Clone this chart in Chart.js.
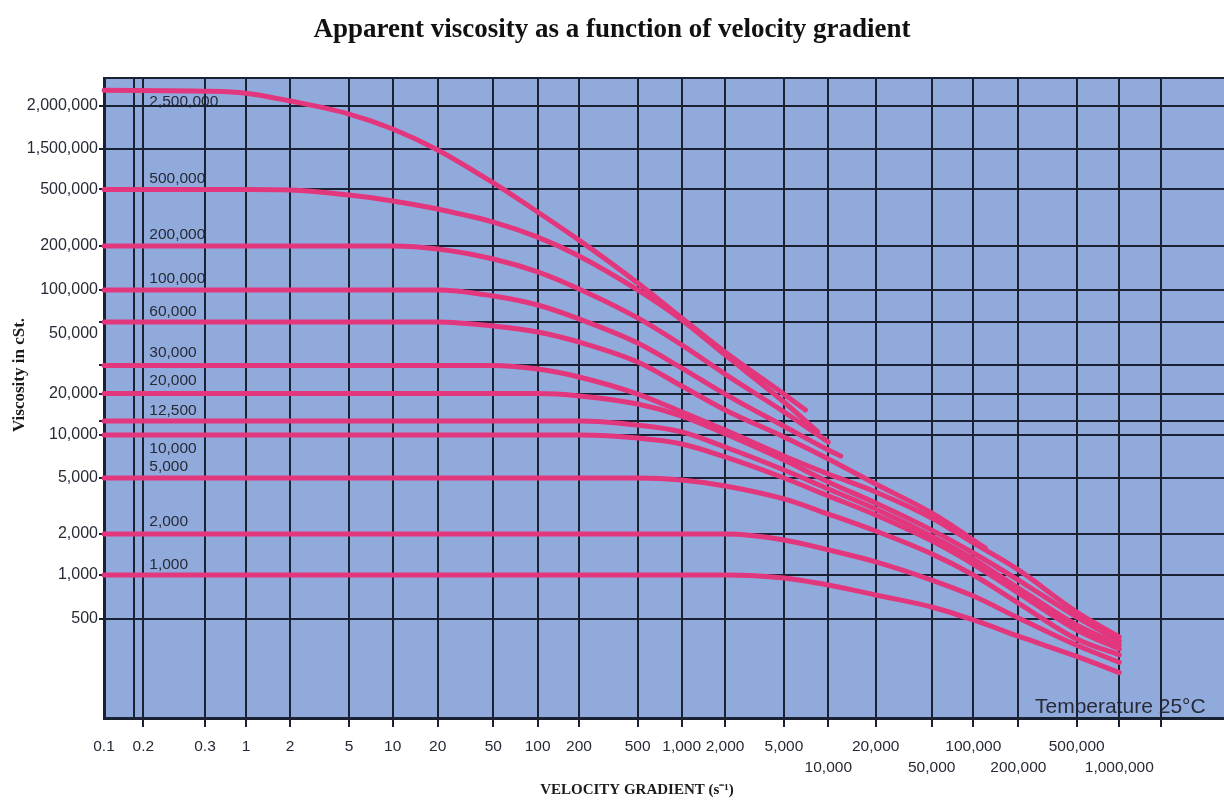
<!DOCTYPE html>
<html>
<head>
<meta charset="utf-8">
<title>Apparent viscosity as a function of velocity gradient</title>
<script src="https://cdn.jsdelivr.net/npm/chart.js@4.4.1/dist/chart.umd.min.js"></script>
<style>
  html, body { margin: 0; padding: 0; background: #ffffff; }
  #wrap { width: 1224px; height: 803px; position: relative; }
</style>
</head>
<body>
<div id="wrap"><canvas id="viscosityChart"></canvas></div>
<script>
// velocity gradient (s-1) where the curves were read
const gradient = [0.1, 0.3, 1, 2, 5, 10, 20, 50, 100, 200, 500, 1000, 2000, 5000, 7000, 8500, 10000, 12000, 20000, 50000, 100000, 120000, 200000, 500000, 1000000];

// apparent viscosity in cSt, null = curve not drawn there
const visc2500000 = [2500000, 2470000, 2400000, 2140000, 1890000, 1712000, 1460000, 597000, 347000, 220000, 111600, 64000, 37200, 19800, 15100, null, null, null, null, null, null, null, null, null, null];
const visc500000 = [500000, 500000, 500000, 496000, 457000, 415000, 364000, 295000, 231000, 171000, 100000, 62000, 35500, 17300, null, 10500, null, null, null, null, null, null, null, null, null];
const visc200000 = [200000, 200000, 200000, 200000, 200000, 200000, 191000, 163000, 133000, 101600, 64000, 41600, 26500, 14600, null, null, 8930, null, null, null, null, null, null, null, null];
const visc100000 = [100000, 100000, 100000, 100000, 100000, 100000, 100000, 90900, 78700, 63000, 42900, 28900, 19800, 11500, null, null, 7850, 7130, null, null, null, null, null, null, null];
const visc60000 = [60000, 60000, 60000, 60000, 60000, 60000, 60000, 56300, 51200, 43600, 31700, 22300, 15100, 9680, null, null, 6790, null, 4530, 2820, null, 1580, null, null, null];
const visc30000 = [30000, 30000, 30000, 30000, 30000, 30000, 30000, 30000, 28500, 25400, 19800, 14600, 10800, 7130, null, null, 5330, null, 3980, 2600, 1720, null, 1090, 558, 373];
const visc20000 = [20000, 20000, 20000, 20000, 20000, 20000, 20000, 20000, 20000, 19200, 16700, 13600, 10200, 6680, null, null, 4690, null, 3320, 2130, 1450, null, 924, 516, 350];
const visc12500 = [12500, 12500, 12500, 12500, 12500, 12500, 12500, 12500, 12500, 12500, 11700, 10500, 8240, 5690, null, null, 4180, null, 3010, 1930, 1310, null, 815, 454, 328];
const visc10000 = [10000, 10000, 10000, 10000, 10000, 10000, 10000, 10000, 10000, 10000, 9530, 8650, 7020, 5000, null, null, 3730, null, 2730, 1780, 1200, null, 753, 418, 307];
const visc5000 = [5000, 5000, 5000, 5000, 5000, 5000, 5000, 5000, 5000, 5000, 5000, 4840, 4390, 3550, null, null, 2770, null, 2100, 1430, 1000, null, 643, 361, 279];
const visc2000 = [2000, 2000, 2000, 2000, 2000, 2000, 2000, 2000, 2000, 2000, 2000, 2000, 2000, 1810, null, null, 1530, null, 1250, 924, 718, null, 508, 326, 247];
const visc1000 = [1000, 1000, 1000, 1000, 1000, 1000, 1000, 1000, 1000, 1000, 1000, 1000, 1000, 954, null, null, 854, null, 730, 604, 492, null, 378, 272, 209];

const curveNames = ['2,500,000', '500,000', '200,000', '100,000', '60,000', '30,000', '20,000', '12,500', '10,000', '5,000', '2,000', '1,000'];
const curves = [visc2500000, visc500000, visc200000, visc100000, visc60000, visc30000, visc20000, visc12500, visc10000, visc5000, visc2000, visc1000];

// axis ticks as printed
const gradientTicks = [0.1, 0.15, 0.2, 0.3, 1, 2, 5, 10, 20, 50, 100, 200, 500, 1000, 2000, 5000, 10000, 20000, 50000, 100000, 200000, 500000, 1000000, 2000000];
const gradientLabels = ['0.1', '', '0.2', '0.3', '1', '2', '5', '10', '20', '50', '100', '200', '500', '1,000', '2,000', '5,000', '10,000', '20,000', '50,000', '100,000', '200,000', '500,000', '1,000,000', ''];
const viscosityTicks = [500, 1000, 2000, 5000, 10000, 12500, 20000, 30000, 50000, 60000, 100000, 200000, 500000, 1500000, 2000000, 3000000];
const viscosityLabels = ['500', '1,000', '2,000', '5,000', '10,000', '', '20,000', '', '50,000', '', '100,000', '200,000', '500,000', '1,500,000', '2,000,000', ''];

// label placement (pixels above/below each curve) and which x labels sit on the second row
const labelShift = [11, -11, -11, -11, -10, -13, -13, -10, 14, -11, -12, -10];
const secondRow = ['10,000', '50,000', '200,000', '1,000,000'];

const gridColor = '#1a2133';
const inkColor = '#262a36';

// the printed grid is not evenly spaced, so each axis maps value -> fraction of its length
// between fixed stops, log-interpolated in between
class PrintedGridScale extends Chart.LinearScale {
  static id = 'printedGrid';
  static defaults = {};

  determineDataLimits() {
    const stops = this.options.stops;
    this.min = stops[0][0];
    this.max = stops[stops.length - 1][0];
  }

  buildTicks() {
    const o = this.options;
    return o.tickValues.map((v, i) => ({
      value: v,
      text: o.tickLabels[i],
      grid: !o.noGrid.includes(v),
      mark: !o.noMark.includes(v)
    }));
  }

  toDecimal(value) {
    const stops = this.options.stops;
    if (value <= stops[0][0]) return stops[0][1];
    for (let i = 1; i < stops.length; i++) {
      const [v1, f1] = stops[i];
      if (value <= v1) {
        const [v0, f0] = stops[i - 1];
        const t = Math.log(value / v0) / Math.log(v1 / v0);
        return f0 + t * (f1 - f0);
      }
    }
    return stops[stops.length - 1][1];
  }

  getPixelForValue(value) {
    if (value === null || value === undefined || isNaN(value)) return NaN;
    return this.getPixelForDecimal(this.toDecimal(value));
  }

  getValueForPixel(pixel) {
    const d = this.getDecimalForPixel(pixel);
    const stops = this.options.stops;
    for (let i = 1; i < stops.length; i++) {
      const [v1, f1] = stops[i];
      if (d <= f1) {
        const [v0, f0] = stops[i - 1];
        return v0 * Math.pow(v1 / v0, (d - f0) / (f1 - f0));
      }
    }
    return this.max;
  }
}
Chart.register(PrintedGridScale);

const paperPlugin = {
  id: 'paper',
  beforeDraw(chart) {
    const { ctx, chartArea: a, scales } = chart;
    ctx.save();
    ctx.fillStyle = '#91aadc';
    ctx.fillRect(a.left, a.top, a.right - a.left, a.bottom - a.top);

    ctx.fillStyle = inkColor;
    ctx.textBaseline = 'middle';
    ctx.textAlign = 'left';
    ctx.font = '21px "Liberation Sans"';
    ctx.fillText('Temperature 25°C', a.right - 189, a.bottom - 11);

    // curve names, written just beside the start of each curve
    ctx.font = '15.5px "Liberation Sans"';
    const xText = scales.x.getPixelForValue(0.2) + 6;
    curves.forEach((vals, i) => {
      const y = scales.y.getPixelForValue(vals[0]) + labelShift[i];
      ctx.fillText(curveNames[i], xText, y);
    });
    ctx.restore();
  },
  afterDraw(chart) {
    const { ctx } = chart;
    ctx.save();
    ctx.fillStyle = '#1a1a1a';
    ctx.textAlign = 'center';
    ctx.textBaseline = 'middle';
    ctx.font = 'bold 15px "Liberation Serif"';
    ctx.fillText('VELOCITY GRADIENT (s\u207B\u00B9)', 637, 790);
    ctx.translate(20, 375);
    ctx.rotate(-Math.PI / 2);
    ctx.font = 'bold 17px "Liberation Serif"';
    ctx.fillText('Viscosity in cSt.', 0, 0);
    ctx.restore();
  }
};

const gridLine = (ctx) => (ctx.tick && ctx.tick.grid === false ? 'rgba(0,0,0,0)' : gridColor);
const gridMark = (ctx) => (ctx.tick && ctx.tick.mark ? gridColor : 'rgba(0,0,0,0)');

new Chart(document.getElementById('viscosityChart'), {
  type: 'line',
  data: {
    datasets: curves.map((vals, i) => ({
      label: curveNames[i],
      data: gradient.map((g, j) => ({ x: g, y: vals[j] })).filter(p => p.y !== null),
      borderColor: '#e2377d',
      borderWidth: 5,
      pointRadius: 0,
      fill: false,
      cubicInterpolationMode: 'monotone',
      borderCapStyle: 'round',
      borderJoinStyle: 'round'
    }))
  },
  options: {
    responsive: true,
    maintainAspectRatio: false,
    animation: false,
    events: [],
    layout: { padding: 0 },
    plugins: {
      legend: { display: false },
      tooltip: { enabled: false },
      title: {
        display: true,
        text: 'Apparent viscosity as a function of velocity gradient',
        color: '#111111',
        font: { family: 'Liberation Serif', size: 27, weight: 'bold' },
        padding: { top: 14, bottom: 31.6 }
      }
    },
    scales: {
      x: {
        type: 'printedGrid',
        position: 'bottom',
        stops: [[0.1, 0], [0.15, 0.0271], [0.2, 0.0351], [0.3, 0.0902], [1, 0.1268], [2, 0.1661], [5, 0.2188], [10, 0.2578], [20, 0.2979], [50, 0.3476], [100, 0.3872], [200, 0.4241], [500, 0.4765], [1000, 0.5158], [2000, 0.5545], [5000, 0.6071], [10000, 0.6467], [20000, 0.6890], [50000, 0.7390], [100000, 0.7762], [200000, 0.8164], [500000, 0.8685], [1000000, 0.9065], [2000000, 0.9438], [5000000, 1]],
        tickValues: gradientTicks,
        tickLabels: gradientLabels,
        noGrid: [],
        noMark: [0.1, 0.15],
        afterFit: (s) => { s.height = 85; },
        grid: { color: gridLine, lineWidth: 2, tickLength: 9, tickWidth: 2, tickColor: gridMark },
        border: { display: true, color: gridColor, width: 3 },
        ticks: {
          autoSkip: false,
          maxRotation: 0,
          minRotation: 0,
          padding: 10,
          color: inkColor,
          font: { family: 'Liberation Sans', size: 15.5, lineHeight: 1.3 },
          callback: (v, i, ticks) => {
            const t = ticks[i].text;
            return secondRow.includes(t) ? ['', t] : t;
          }
        }
      },
      y: {
        type: 'printedGrid',
        position: 'left',
        stops: [[100, 0], [500, 0.1547], [1000, 0.2234], [2000, 0.2875], [5000, 0.375], [10000, 0.4422], [12500, 0.4641], [20000, 0.5070], [30000, 0.5508], [60000, 0.6188], [100000, 0.6688], [200000, 0.7375], [500000, 0.8258], [1500000, 0.8891], [2000000, 0.9570], [3000000, 1]],
        tickValues: viscosityTicks,
        tickLabels: viscosityLabels,
        noGrid: [50000],
        noMark: [50000, 3000000],
        afterFit: (s) => { s.width = 104; },
        grid: { color: gridLine, lineWidth: 2, tickLength: 5, tickWidth: 2, tickColor: gridMark },
        border: { display: true, color: gridColor, width: 3 },
        ticks: {
          autoSkip: false,
          padding: 1,
          color: inkColor,
          font: { family: 'Liberation Sans', size: 16 },
          callback: (v, i, ticks) => ticks[i].text
        }
      }
    }
  },
  plugins: [paperPlugin]
});
</script>
</body>
</html>
